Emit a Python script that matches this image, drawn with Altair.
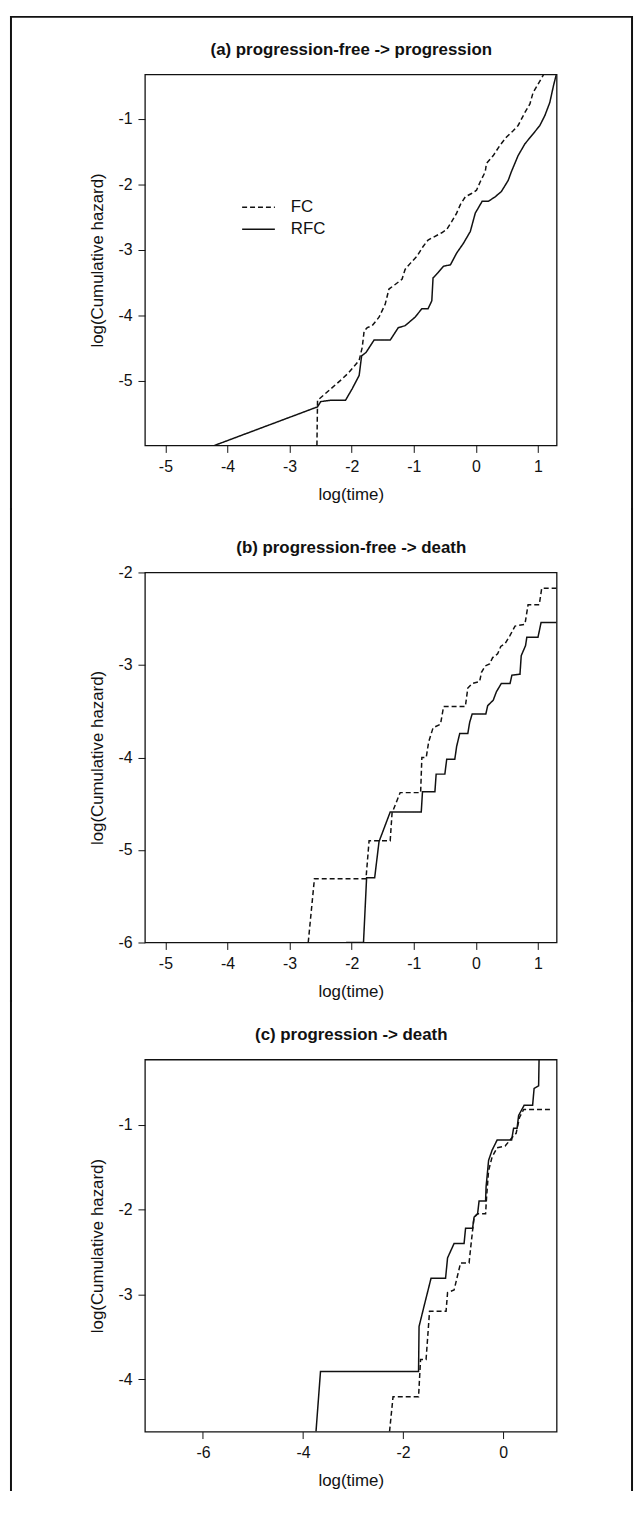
import altair as alt
import pandas as pd

# ---------------- data ----------------
# (a) progression-free -> progression
a_fc_x = [-2.56, -2.55, -2.39, -2.15, -2.05, -1.88, -1.83, -1.80, -1.75, -1.67, -1.56, -1.46, -1.40,
          -1.30, -1.19, -1.14, -1.05, -0.95, -0.85, -0.77, -0.71, -0.55, -0.47, -0.39, -0.31, -0.25,
          -0.17, -0.07, 0.01, 0.07, 0.15, 0.17, 0.28, 0.39, 0.49, 0.60, 0.68, 0.79, 0.87, 0.92, 1.00,
          1.08, 1.10]
a_fc_y = [-5.99, -5.30, -5.17, -4.97, -4.88, -4.69, -4.49, -4.24, -4.19, -4.16, -4.03, -3.83, -3.60,
          -3.53, -3.45, -3.30, -3.20, -3.10, -2.95, -2.85, -2.82, -2.74, -2.69, -2.57, -2.44, -2.31,
          -2.19, -2.14, -2.09, -1.96, -1.81, -1.68, -1.56, -1.40, -1.28, -1.18, -1.10, -0.90, -0.77,
          -0.60, -0.47, -0.34, -0.30]
a_rfc_x = [-4.21, -2.55, -2.50, -2.34, -2.10, -1.99, -1.88, -1.84, -1.77, -1.64, -1.38, -1.25, -1.14,
           -0.98, -0.87, -0.77, -0.71, -0.69, -0.61, -0.52, -0.41, -0.31, -0.20, -0.09, -0.01, 0.10,
           0.20, 0.31, 0.41, 0.52, 0.57, 0.68, 0.79, 0.92, 1.03, 1.11, 1.19, 1.25, 1.29, 1.30]
a_rfc_y = [-5.99, -5.40, -5.32, -5.30, -5.30, -5.12, -4.92, -4.62, -4.57, -4.38, -4.38, -4.19, -4.16,
           -4.03, -3.90, -3.90, -3.78, -3.43, -3.35, -3.25, -3.23, -3.05, -2.90, -2.72, -2.44, -2.26,
           -2.26, -2.19, -2.11, -1.94, -1.81, -1.56, -1.38, -1.23, -1.10, -0.95, -0.75, -0.49, -0.34,
           -0.30]

# (b) progression-free -> death
b_fc_x = [-2.70, -2.60, -1.77, -1.72, -1.38, -1.35, -1.22, -0.89, -0.87, -0.80, -0.76, -0.69, -0.57,
          -0.52, -0.17, -0.13, -0.06, 0.06, 0.09, 0.15, 0.22, 0.27, 0.35, 0.40, 0.47, 0.55, 0.63,
          0.79, 0.84, 1.02, 1.06, 1.30]
b_fc_y = [-6.00, -5.31, -5.31, -4.90, -4.90, -4.60, -4.38, -4.38, -4.00, -4.00, -3.83, -3.68, -3.64,
          -3.45, -3.45, -3.25, -3.20, -3.18, -3.08, -3.01, -2.99, -2.92, -2.88, -2.80, -2.77, -2.68,
          -2.58, -2.56, -2.35, -2.35, -2.17, -2.17]
b_rfc_x = [-2.09, -1.81, -1.76, -1.63, -1.56, -1.38, -0.88, -0.86, -0.66, -0.64, -0.50, -0.47, -0.34,
           -0.31, -0.26, -0.13, -0.10, -0.06, 0.16, 0.19, 0.28, 0.33, 0.41, 0.55, 0.58, 0.71, 0.73,
           0.80, 0.82, 1.00, 1.05, 1.30]
b_rfc_y = [-6.00, -6.00, -5.30, -5.30, -4.91, -4.59, -4.59, -4.37, -4.37, -4.18, -4.18, -4.02, -4.02,
           -3.88, -3.74, -3.74, -3.62, -3.53, -3.53, -3.44, -3.38, -3.29, -3.20, -3.20, -3.11, -3.10,
           -2.90, -2.79, -2.70, -2.70, -2.54, -2.54]

# (c) progression -> death
c_fc_x = [-2.27, -2.20, -1.69, -1.65, -1.54, -1.47, -1.14, -1.11, -0.98, -0.85, -0.68, -0.65, -0.58,
          -0.51, -0.35, -0.33, -0.29, -0.22, -0.12, 0.04, 0.21, 0.26, 0.33, 0.41, 0.98]
c_fc_y = [-4.62, -4.21, -4.21, -3.77, -3.77, -3.20, -3.20, -2.98, -2.95, -2.63, -2.63, -2.46, -2.09,
          -2.05, -2.05, -1.85, -1.54, -1.38, -1.27, -1.25, -1.13, -1.10, -0.91, -0.82, -0.82]
c_rfc_x = [-3.74, -3.65, -1.69, -1.68, -1.58, -1.44, -1.15, -1.11, -1.01, -0.98, -0.78, -0.75, -0.61,
           -0.58, -0.51, -0.48, -0.35, -0.34, -0.29, -0.22, -0.12, 0.17, 0.21, 0.28, 0.31, 0.42, 0.59,
           0.62, 0.71, 0.72]
c_rfc_y = [-4.62, -3.91, -3.91, -3.38, -3.14, -2.81, -2.81, -2.57, -2.44, -2.40, -2.40, -2.22, -2.22,
           -2.09, -2.05, -1.90, -1.90, -1.73, -1.42, -1.30, -1.18, -1.18, -1.04, -1.04, -0.89, -0.77,
           -0.77, -0.57, -0.54, -0.20]

groups = ["FC", "RFC"]
titles = ["(a) progression-free -> progression",
          "(b) progression-free -> death",
          "(c) progression -> death"]
x_domains = [[-5.33, 1.30], [-5.33, 1.30], [-7.16, 1.07]]
y_domains = [[-5.99, -0.32], [-6.0, -2.0], [-4.62, -0.23]]
x_ticks = [[-5, -4, -3, -2, -1, 0, 1], [-5, -4, -3, -2, -1, 0, 1], [-6, -4, -2, 0]]
y_ticks = [[-5, -4, -3, -2, -1], [-6, -5, -4, -3, -2], [-4, -3, -2, -1]]
x_title = "log(time)"
y_title = "log(Cumulative hazard)"

# ---------------- styling ----------------
FONT = "Liberation Sans, Arial, Helvetica, sans-serif"
INK = "#111111"
W = 415
HEIGHTS = [374, 373, 375]
LEGEND_POS = [(106, 125.5), (106, 107.5), (183, 164.5)]
# frame segments (pixel offsets relative to each panel's plot origin)
FRAME = [(-58, 438), (-64, 432), (-59, 434)]
FRAME_L, FRAME_R = -135, 491
HYPHEN = "datum.value < 0 ? '-' + abs(datum.value) : '' + datum.value"


def panel(i, fc_x, fc_y, rfc_x, rfc_y):
    df = pd.concat([
        pd.DataFrame({"x": fc_x, "y": fc_y, "group": groups[0], "idx": range(len(fc_x))}),
        pd.DataFrame({"x": rfc_x, "y": rfc_y, "group": groups[1], "idx": range(len(rfc_x))}),
    ], ignore_index=True)
    xscale = alt.Scale(domain=x_domains[i], nice=False, zero=False)
    yscale = alt.Scale(domain=y_domains[i], nice=False, zero=False)
    lx, ly = LEGEND_POS[i]

    lines = alt.Chart(df).mark_line(color=INK, strokeWidth=1.5, clip=True).encode(
        x=alt.X("x:Q", scale=xscale,
                axis=alt.Axis(values=x_ticks[i], title=x_title, titleY=54,
                              titleBaseline="alphabetic", labelPadding=6, labelExpr=HYPHEN)),
        y=alt.Y("y:Q", scale=yscale,
                axis=alt.Axis(values=y_ticks[i], title=y_title, titleX=-43,
                              titleBaseline="alphabetic", labelPadding=6, labelExpr=HYPHEN)),
        strokeDash=alt.StrokeDash(
            "group:N",
            scale=alt.Scale(domain=groups, range=[[5, 3], [1, 0]]),
            legend=alt.Legend(orient="none", legendX=lx, legendY=ly, title=None,
                              symbolType="M-3,0H3", symbolSize=121, symbolStrokeWidth=1.5,
                              symbolStrokeColor=INK, symbolFillColor="transparent",
                              labelFontSize=17, labelFont=FONT,
                              labelColor=INK, labelOffset=24, rowPadding=4)),
        order="idx:Q",
    )

    title_axis = alt.Chart(df).mark_point(opacity=0).encode(
        x=alt.X("x:Q", scale=xscale,
                axis=alt.Axis(orient="top", title=titles[i], labels=False, ticks=False,
                              domain=False, titleY=-20, titleBaseline="alphabetic",
                              titleFontWeight="bold", titleFontSize=17)),
    )

    y1, y2 = FRAME[i]
    fdf = pd.DataFrame({"k": [0]})
    frame_l = alt.Chart(fdf).mark_rule(color=INK, strokeWidth=2, strokeCap="square").encode(
        x=alt.value(FRAME_L), y=alt.value(y1), y2=alt.value(y2))
    frame_r = alt.Chart(fdf).mark_rule(color=INK, strokeWidth=2, strokeCap="square").encode(
        x=alt.value(FRAME_R), y=alt.value(y1), y2=alt.value(y2))
    layers = [lines, title_axis, frame_l, frame_r]
    if i == 0:
        frame_t = alt.Chart(fdf).mark_rule(color=INK, strokeWidth=2, strokeCap="square").encode(
            x=alt.value(FRAME_L), x2=alt.value(FRAME_R), y=alt.value(y1))
        layers.append(frame_t)

    return alt.layer(*layers).resolve_axis(x="independent").properties(width=W, height=HEIGHTS[i])


pa = panel(0, a_fc_x, a_fc_y, a_rfc_x, a_rfc_y)
pb = panel(1, b_fc_x, b_fc_y, b_rfc_x, b_rfc_y)
pc = panel(2, c_fc_x, c_fc_y, c_rfc_x, c_rfc_y)

chart = alt.vconcat(pa, pb, pc, spacing=-6, padding=0, background="white").configure_view(
    stroke=INK, strokeWidth=1.3
).configure_axis(
    labelFont=FONT, titleFont=FONT, labelFontSize=16, titleFontSize=17,
    labelColor=INK, titleColor=INK, tickColor=INK, tickSize=7, tickWidth=1,
    domain=False, grid=False, titleFontWeight="normal",
)

chart.save("out.html", embed_options={"renderer": "svg", "actions": False})
